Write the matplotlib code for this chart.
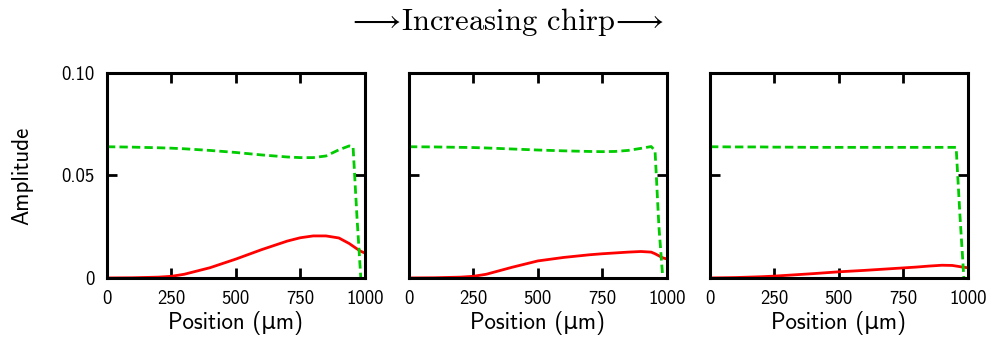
import numpy as np
import matplotlib
matplotlib.use("Agg")
import matplotlib.pyplot as plt

plt.rcParams['mathtext.fontset'] = 'cm'

# Field amplitude along the grating for three chirp values
position = [0, 100, 200, 250, 300, 400, 500, 600, 700, 750, 800, 850, 900, 940, 955, 970, 985, 1000]

green_1 = [0.064, 0.0638, 0.0635, 0.0633, 0.0630, 0.0622, 0.0612, 0.0600, 0.0590, 0.0587, 0.0587, 0.0595, 0.0625, 0.0644, 0.064, 0.030, 0.0, np.nan]
red_1 = [0.0, 0.0001, 0.0004, 0.0008, 0.0018, 0.0050, 0.0092, 0.0138, 0.0180, 0.0196, 0.0205, 0.0205, 0.0195, 0.0168, 0.0155, 0.0142, 0.0130, 0.0122]

green_2 = [0.064, 0.0639, 0.0637, 0.0636, 0.0634, 0.0629, 0.0624, 0.0620, 0.0617, 0.0616, 0.0617, 0.0622, 0.0632, 0.0641, 0.062, 0.025, 0.0, np.nan]
red_2 = [0.0, 0.0001, 0.0004, 0.0008, 0.0018, 0.0052, 0.0083, 0.0100, 0.0113, 0.0118, 0.0122, 0.0126, 0.0129, 0.0126, 0.0118, 0.0108, 0.0098, 0.0093]

green_3 = [0.064, 0.0639, 0.0639, 0.0638, 0.0638, 0.0637, 0.0637, 0.0637, 0.0637, 0.0637, 0.0637, 0.0637, 0.0637, 0.0637, 0.0637, 0.030, 0.0, np.nan]
red_3 = [0.0, 0.0002, 0.0006, 0.0009, 0.0013, 0.0021, 0.0030, 0.0037, 0.0045, 0.0049, 0.0053, 0.0058, 0.0062, 0.0061, 0.0058, 0.0055, 0.0052, 0.0050]

panels = [(green_1, red_1), (green_2, red_2), (green_3, red_3)]
x_ticks = [0, 250, 500, 750, 1000]
y_ticks = [0, 0.05, 0.10]
y_labels = ["0", "0.05", "0.10"]

sans = ['cmss10', 'DejaVu Sans']

fig = plt.figure(figsize=(9.95, 3.44), dpi=100)
lefts = [0.1075, 0.411, 0.7136]
for i, (green, red) in enumerate(panels):
    ax = fig.add_axes([lefts[i], 0.192, 0.259, 0.596])
    ax.plot(position, red, color='#ff0000', lw=2)
    ax.plot(position, green, color='#00cc00', lw=2, ls=(0, (3, 1.5)))
    ax.set_xlim(0, 1000)
    ax.set_ylim(0, 0.10)
    ax.set_xticks(x_ticks)
    ax.set_xticklabels([str(t) for t in x_ticks], family=sans, fontsize=13.5)
    ax.set_yticks(y_ticks)
    if i == 0:
        ax.set_yticklabels(y_labels, family=sans, fontsize=13.5)
        ax.set_ylabel("Amplitude", family=sans, fontsize=16.5, labelpad=20)
    else:
        ax.set_yticklabels([])
    ax.set_xlabel("Position (\u03bcm)", family=sans, fontsize=16.5, labelpad=2)
    ax.tick_params(direction='in', length=7, width=2, top=True, right=True, pad=9)
    for s in ax.spines.values():
        s.set_linewidth(2.2)

fig.text(0.508, 0.935, r"$\longrightarrow\!$Increasing chirp$\!\longrightarrow$",
         ha='center', va='center', fontsize=22, family='cmr10')

fig.savefig("out.png", dpi=100)
